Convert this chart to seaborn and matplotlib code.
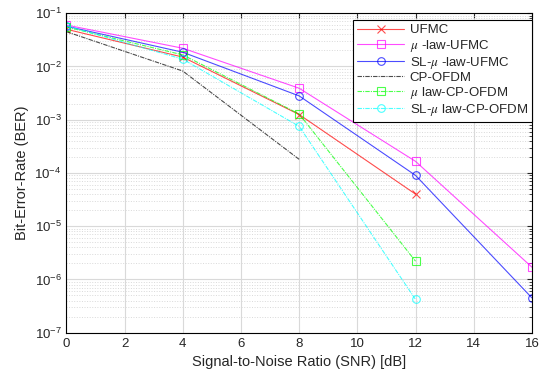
import numpy as np
import pandas as pd
import matplotlib
matplotlib.use("Agg")
import matplotlib.pyplot as plt
import seaborn as sns

snr = [0, 4, 8, 12, 16]
ufmc = [0.050, 0.0150, 0.00125, 4.0e-5]
mu_ufmc = [0.060, 0.0220, 0.0039, 1.65e-4, 1.7e-6]
sl_mu_ufmc = [0.057, 0.0185, 0.0028, 9.0e-5, 4.5e-7]
cp_ofdm = [0.045, 0.0082, 1.8e-4]
mu_cp_ofdm = [0.055, 0.0165, 0.00128, 2.2e-6]
sl_mu_cp_ofdm = [0.058, 0.0137, 7.5e-4, 4.2e-7]

labels = ["UFMC", r"$\mu$ -law-UFMC", r"SL-$\mu$ -law-UFMC", "CP-OFDM",
          r"$\mu$ law-CP-OFDM", r"SL-$\mu$ law-CP-OFDM"]
series = [ufmc, mu_ufmc, sl_mu_ufmc, cp_ofdm, mu_cp_ofdm, sl_mu_cp_ofdm]
colors = ["red", "magenta", "blue", "black", "lime", "cyan"]
markers = ["x", "s", "o", None, "s", "o"]
styles = ["-", "-", "-", (0, (4, 1, 1, 1)), (0, (4, 1, 1, 1)), (0, (4, 1, 1, 1))]

sns.set_style("white")
plt.rcParams["font.family"] = ["Liberation Sans", "DejaVu Sans"]
plt.rcParams["mathtext.fontset"] = "stix"

fig, ax = plt.subplots(figsize=(5.4, 3.78), dpi=100)

for lab, vals, c, m, ls in zip(labels, series, colors, markers, styles):
    df = pd.DataFrame({"snr": snr[:len(vals)], "ber": vals})
    sns.lineplot(data=df, x="snr", y="ber", ax=ax, color=c, marker=m,
                 linestyle=ls, linewidth=0.8, markersize=5.5,
                 markerfacecolor="none", markeredgecolor=c,
                 markeredgewidth=0.8, label=lab, alpha=0.7)

ax.set_yscale("log")
ax.set_xlim(0, 16)
ax.set_ylim(1e-7, 1e-1)
ax.set_xticks(range(0, 17, 2))
ax.grid(True, which="major", color="#d9d9d9", linewidth=0.8)
ax.grid(True, which="minor", color="#d9d9d9", linestyle=":", linewidth=0.7)
ax.tick_params(axis="both", which="both", direction="in", labelsize=9.5,
               top=True, right=True)
for s in ax.spines.values():
    s.set_color("black")
    s.set_linewidth(0.8)

ax.set_xlabel("Signal-to-Noise Ratio (SNR) [dB]", fontsize=10.5)
ax.set_ylabel("Bit-Error-Rate (BER)", fontsize=10.5)

leg = ax.legend(loc="upper right", fontsize=9.5, frameon=True, fancybox=False,
                handlelength=3.6, handletextpad=0.4, borderpad=0.3,
                labelspacing=0.08, borderaxespad=0,
                bbox_to_anchor=(1.0, 0.978))
leg.get_frame().set_edgecolor("black")
leg.get_frame().set_linewidth(0.8)
leg.get_frame().set_alpha(1)

plt.subplots_adjust(left=0.123, right=0.985, top=0.965, bottom=0.12)
plt.savefig("out.png", dpi=100)
